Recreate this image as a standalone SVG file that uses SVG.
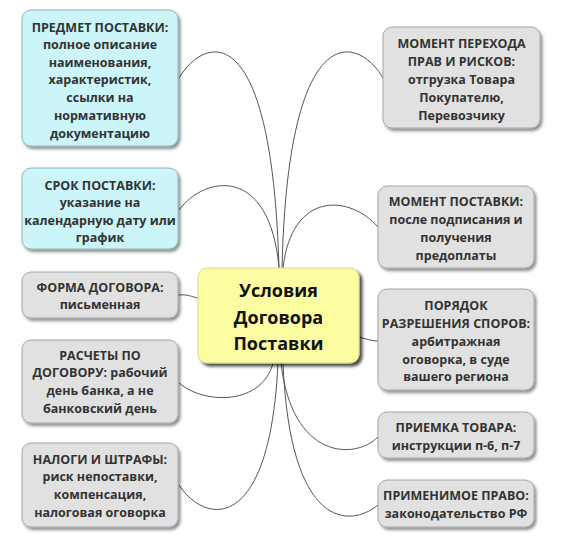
<svg xmlns="http://www.w3.org/2000/svg" width="564" height="558" viewBox="0 0 564 558">
<defs>
<filter id="sh" x="-10%" y="-10%" width="130%" height="140%">
<feDropShadow dx="2" dy="2.5" stdDeviation="1.5" flood-color="#000" flood-opacity="0.45"/>
</filter>
<filter id="shc" x="-10%" y="-10%" width="130%" height="140%">
<feDropShadow dx="3" dy="3" stdDeviation="1.5" flood-color="#000" flood-opacity="0.7"/>
</filter>
<style>
.cy{fill:#cbf5f8;stroke:#8fb3b6;stroke-width:1}
.gr{fill:#e1e1e1;stroke:#a6a6a6;stroke-width:1}
.ce{fill:#fcfca0;stroke:#d8d890;stroke-width:1}
text{font-family:"Open Sans","DejaVu Sans",sans-serif;font-weight:bold;text-anchor:middle}
.t{font-size:12.5px;fill:#333}
.tc{font-size:18px;fill:#111}
.ln{fill:none;stroke:#555;stroke-width:1}
</style>
</defs>
<rect width="564" height="558" fill="#fff"/>
<g id="connectors">
<path class="ln" d="M179,78 C205,35 272,15 279,268"/>
<path class="ln" d="M179,210 C205,175 270,165 279,268"/>
<path class="ln" d="M383,78 C358,35 288,15 282,268"/>
<path class="ln" d="M378,227 C350,195 292,190 283,268"/>
<path class="ln" d="M178,295 C188,294 192,297 198,298"/>
<path class="ln" d="M359,337 C366,339 372,341 378,341"/>
<path class="ln" d="M179,383 C205,405 262,405 273,363"/>
<path class="ln" d="M179,485 C205,525 270,535 278,363"/>
<path class="ln" d="M378,437 C355,460 292,460 281,363"/>
<path class="ln" d="M378,505 C350,528 290,530 283,363"/>
</g>
<g id="center" filter="url(#shc)">
<rect class="ce" x="198" y="268" width="161" height="95" rx="9"/>
</g>
<g id="center-text">
<text class="tc" x="278.5" y="297">Условия</text>
<text class="tc" x="278.5" y="323.5">Договора</text>
<text class="tc" x="278.5" y="350">Поставки</text>
</g>
<g id="n-predmet">
<rect class="cy" x="22" y="10" width="156" height="136" rx="9" filter="url(#sh)"/>
<text class="t" x="100" y="31.5">ПРЕДМЕТ ПОСТАВКИ:</text>
<text class="t" x="100" y="49">полное описание</text>
<text class="t" x="100" y="66.5">наименования,</text>
<text class="t" x="100" y="84">характеристик,</text>
<text class="t" x="100" y="102">ссылки на</text>
<text class="t" x="100" y="120">нормативную</text>
<text class="t" x="100" y="137.5">документацию</text>
</g>
<g id="n-srok">
<rect class="cy" x="22" y="168" width="156" height="81" rx="9" filter="url(#sh)"/>
<text class="t" x="100" y="189.5">СРОК ПОСТАВКИ:</text>
<text class="t" x="100" y="207">указание на</text>
<text class="t" x="100" y="224.5">календарную дату или</text>
<text class="t" x="100" y="242">график</text>
</g>
<g id="n-forma">
<rect class="gr" x="22" y="272" width="156" height="46" rx="9" filter="url(#sh)"/>
<text class="t" x="100" y="291.5">ФОРМА ДОГОВОРА:</text>
<text class="t" x="100" y="309">письменная</text>
</g>
<g id="n-raschety">
<rect class="gr" x="22" y="340" width="156" height="83" rx="9" filter="url(#sh)"/>
<text class="t" x="100" y="359.5">РАСЧЕТЫ ПО</text>
<text class="t" x="100" y="377">ДОГОВОРУ: рабочий</text>
<text class="t" x="100" y="395">день банка, а не</text>
<text class="t" x="100" y="412.5">банковский день</text>
</g>
<g id="n-nalogi">
<rect class="gr" x="22" y="443" width="156" height="84" rx="9" filter="url(#sh)"/>
<text class="t" x="100" y="463.5">НАЛОГИ И ШТРАФЫ:</text>
<text class="t" x="100" y="481">риск непоставки,</text>
<text class="t" x="100" y="499">компенсация,</text>
<text class="t" x="100" y="517">налоговая оговорка</text>
</g>
<g id="n-moment-perehoda">
<rect class="gr" x="383" y="27" width="157" height="101" rx="9" filter="url(#sh)"/>
<text class="t" x="461.5" y="47.5">МОМЕНТ ПЕРЕХОДА</text>
<text class="t" x="461.5" y="66">ПРАВ И РИСКОВ:</text>
<text class="t" x="461.5" y="84">отгрузка Товара</text>
<text class="t" x="461.5" y="102">Покупателю,</text>
<text class="t" x="461.5" y="120">Перевозчику</text>
</g>
<g id="n-moment-postavki">
<rect class="gr" x="378" y="186" width="156" height="82" rx="9" filter="url(#sh)"/>
<text class="t" x="456" y="205.5">МОМЕНТ ПОСТАВКИ:</text>
<text class="t" x="456" y="224">после подписания и</text>
<text class="t" x="456" y="242">получения</text>
<text class="t" x="456" y="259.5">предоплаты</text>
</g>
<g id="n-poryadok">
<rect class="gr" x="378" y="289" width="156" height="101" rx="9" filter="url(#sh)"/>
<text class="t" x="456" y="309.5">ПОРЯДОК</text>
<text class="t" x="456" y="327.5">РАЗРЕШЕНИЯ СПОРОВ:</text>
<text class="t" x="456" y="345.5">арбитражная</text>
<text class="t" x="456" y="363.5">оговорка, в суде</text>
<text class="t" x="456" y="381">вашего региона</text>
</g>
<g id="n-priemka">
<rect class="gr" x="378" y="412" width="156" height="46" rx="9" filter="url(#sh)"/>
<text class="t" x="456" y="431.5">ПРИЕМКА ТОВАРА:</text>
<text class="t" x="456" y="449.5">инструкции п-6, п-7</text>
</g>
<g id="n-primenimoe">
<rect class="gr" x="378" y="480" width="156" height="47" rx="9" filter="url(#sh)"/>
<text class="t" x="456" y="499.5">ПРИМЕНИМОЕ ПРАВО:</text>
<text class="t" x="456" y="517.5">законодательство РФ</text>
</g>
</svg>
